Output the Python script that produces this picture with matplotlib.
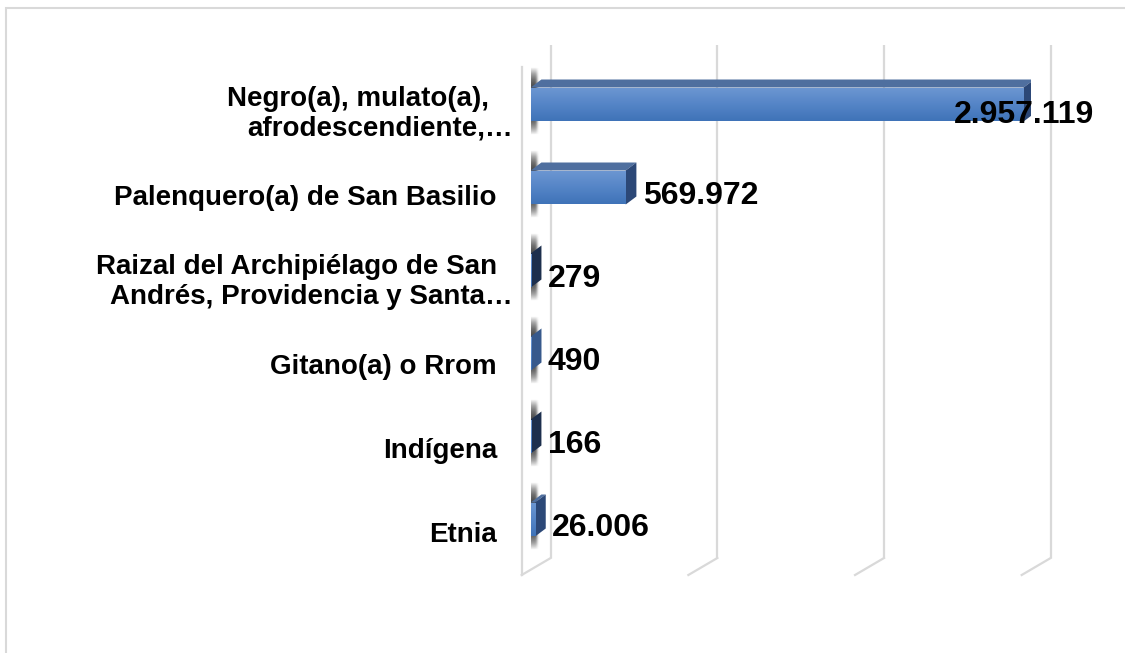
import numpy as np
import matplotlib
matplotlib.use("Agg")
import matplotlib.pyplot as plt
from matplotlib.patches import Polygon, Rectangle
from matplotlib.colors import LinearSegmentedColormap

# ---- data ----
categories = [
    "Negro(a), mulato(a),\nafrodescendiente,…",
    "Palenquero(a) de San Basilio",
    "Raizal del Archipiélago de San\nAndrés, Providencia y Santa…",
    "Gitano(a) o Rrom",
    "Indígena",
    "Etnia",
]
values = [2957119, 569972, 279, 490, 166, 26006]
x_ticks = [0, 1000000, 2000000, 3000000]

def fmt(v):
    return f"{v:,}".replace(",", ".")

W, H = 1125, 653
fig = plt.figure(figsize=(W / 100, H / 100), dpi=100)
fig.patch.set_facecolor("white")

# outer border
fig.add_artist(Rectangle((6 / W, -0.05), 1.2, 1 - 8 / H + 0.05, transform=fig.transFigure,
                         fill=False, edgecolor="#d9d9d9", lw=1.5))

X0 = 530.7          # pixel of x=0 on bar front plane
ROW0, ROWSTEP = 104.5, 83.0
ax = fig.add_axes([X0 / W, 1 - 561 / H, 500 / W, 498 / H])
ax.set_xlim(0, 3e6)
ax.set_ylim(5.5, -0.5)
ax.axis("off")

def xd(px):
    return px * 3e6 / 500.0

def yd(px):
    return (px - ROW0) / ROWSTEP

grid_c = "#d9d9d9"
# back wall gridlines
for g in x_ticks:
    ax.plot([g + xd(20), g + xd(20)], [yd(45), yd(558)], color=grid_c, lw=1.6,
            clip_on=False, zorder=1, solid_capstyle="butt")
    ax.plot([g - xd(9), g + xd(20)], [yd(575), yd(558)], color=grid_c, lw=1.6,
            clip_on=False, zorder=1)
# left wall front edge
ax.plot([-xd(9), -xd(9)], [yd(67), yd(575)], color=grid_c, lw=1.6, clip_on=False, zorder=1)

h = 34 / ROWSTEP
DX, DY = xd(10.7), 8 / ROWSTEP
grad_cmap = LinearSegmentedColormap.from_list("g", ["#6d97d2", "#5585c7", "#3f73b8"])
grad = np.linspace(0, 1, 64).reshape(-1, 1)
side_colors = ["#2c4877", "#2c4877", "#1d2f4d", "#37598c", "#1d2f4d", "#2c4877"]

# shadow blob template
ny, nx = 80, 40
yy = np.linspace(-1, 1, ny).reshape(-1, 1)
xx = np.linspace(-1, 1, nx).reshape(1, -1)
alpha = np.exp(-(xx ** 4) / 0.2) * np.clip(1.0 - np.abs(yy) ** 3, 0, 1)
shadow = np.zeros((ny, nx, 4))
shadow[..., :3] = 0.2
shadow[..., 3] = 0.95 * alpha

for i, v in enumerate(values):
    top = i - h / 2
    bot = i + h / 2
    # shadow near wall
    ax.imshow(shadow, extent=(-xd(5), xd(9), bot + 14 / ROWSTEP, top - 20 / ROWSTEP),
              aspect="auto", zorder=2, interpolation="bilinear")
    # top face
    ax.add_patch(Polygon([(0, top), (v, top), (v + DX, top - DY), (DX, top - DY)],
                         closed=True, facecolor="#4f6f9f", edgecolor="none", zorder=3))
    # side face
    ax.add_patch(Polygon([(v, top), (v + DX, top - DY), (v + DX, bot - DY), (v, bot)],
                         closed=True, facecolor=side_colors[i], edgecolor="none", zorder=3))
    # front face with gradient
    rect = Rectangle((0, top), v, h, facecolor="none", edgecolor="none", zorder=4)
    ax.add_patch(rect)
    im = ax.imshow(grad, cmap=grad_cmap, extent=(0, v, bot, top), aspect="auto",
                   zorder=4, interpolation="bilinear")
    im.set_clip_path(rect)

ax.set_xlim(0, 3e6)
ax.set_ylim(5.5, -0.5)

# value labels
val_font = dict(family="Liberation Sans", weight="bold", size=23, color="black")
for i, v in enumerate(values):
    yb = yd(ROW0 + i * ROWSTEP + 5 + 11.5)
    if i == 0:
        ax.text(v, yd(ROW0 + 7 + 11.5), fmt(v), ha="center", va="baseline",
                clip_on=False, zorder=6, **val_font)
    else:
        ax.text(v + xd(17), yb, fmt(v), ha="left", va="baseline", clip_on=False,
                zorder=6, **val_font)

# category labels
cat_font = dict(family="Liberation Sans", weight="bold", size=20, color="black")
for i, lab in enumerate(categories):
    c = 111 + 84.2 * i
    lines = lab.split("\n")
    n = len(lines)
    for j, line in enumerate(lines):
        cy = c + (j - (n - 1) / 2) * 30
        right = 497
        if line.endswith("…"):
            right = 513
        elif line.endswith(",") and n > 1:
            right = 489
        ax.text(-xd(X0 - right), yd(cy + 10), line, ha="right", va="baseline",
                clip_on=False, zorder=6, **cat_font)

fig.savefig("out.png", dpi=100, facecolor="white")
